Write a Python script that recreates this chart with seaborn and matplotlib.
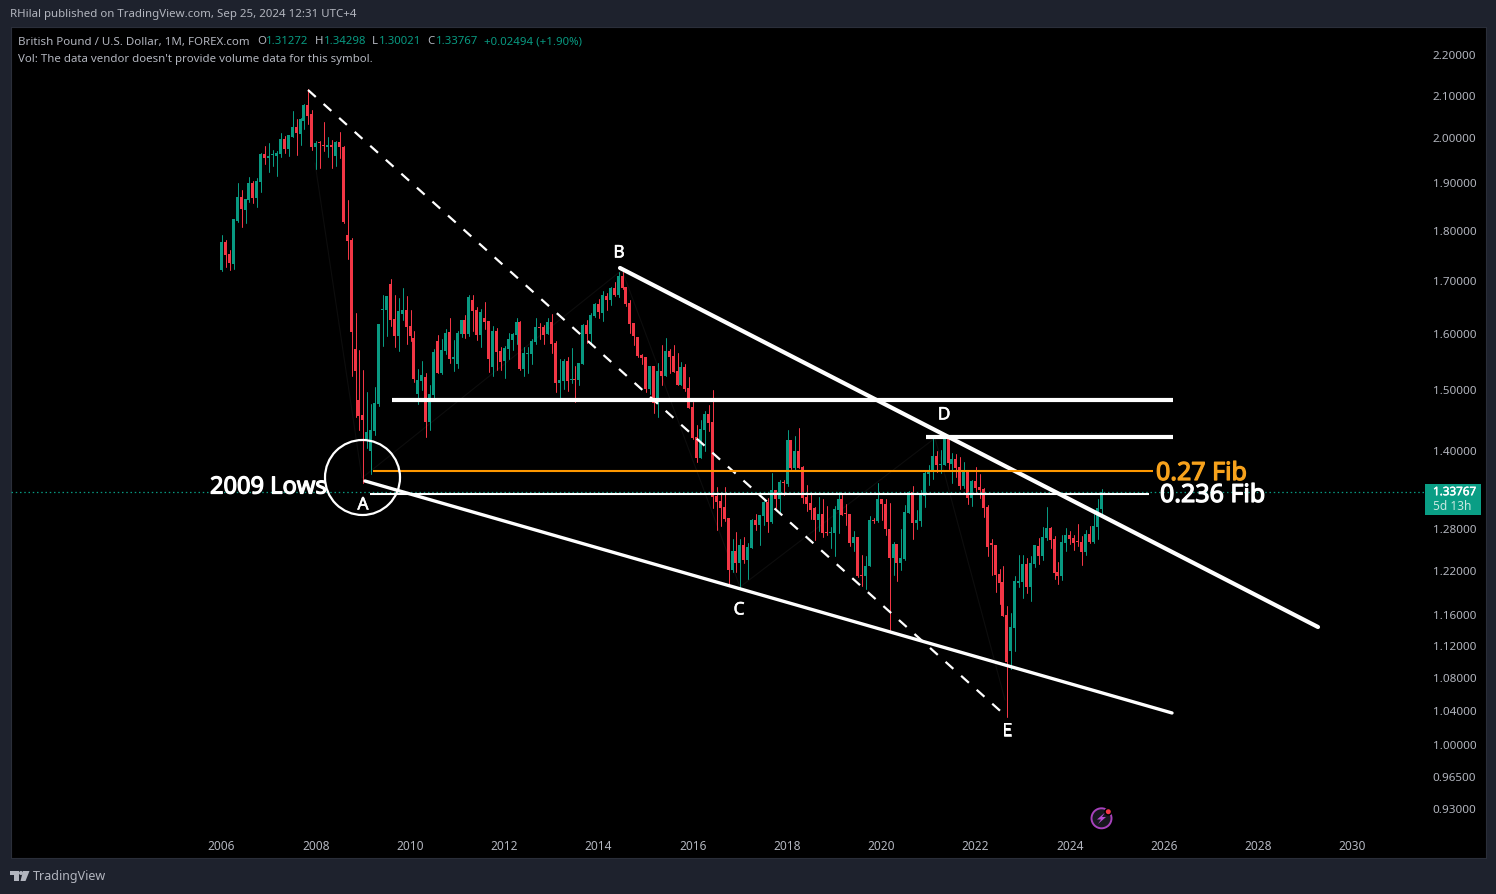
import numpy as np
import pandas as pd
import matplotlib
matplotlib.use('Agg')
import matplotlib.pyplot as plt
import matplotlib.patheffects as pe
from matplotlib.patches import Ellipse, Polygon, Rectangle
from matplotlib.ticker import FixedLocator, FixedFormatter, NullLocator
from matplotlib.transforms import ScaledTranslation
import seaborn as sns

# Monthly GBPUSD candles, Jan 2006 to Sep 2024
opens = [1.724,1.780,1.756,1.736,1.822,1.873,1.846,1.867,1.904,1.872,1.906,1.968,1.959,1.965,1.964,1.968,2.002,1.979,2.007,2.030,
         2.014,2.043,2.081,2.060,1.984,1.993,1.986,1.983,1.988,1.964,1.995,1.984,1.794,1.784,1.575,1.486,1.461,1.420,1.402,1.435,
         1.479,1.647,1.647,1.696,1.630,1.599,1.640,1.647,1.617,1.595,1.496,1.519,1.526,1.449,1.494,1.590,1.533,1.572,1.606,1.557,
         1.549,1.603,1.628,1.602,1.666,1.647,1.600,1.632,1.626,1.543,1.608,1.572,1.554,1.575,1.591,1.600,1.624,1.540,1.567,1.566,
         1.588,1.615,1.615,1.602,1.624,1.586,1.515,1.519,1.554,1.521,1.522,1.520,1.548,1.619,1.602,1.635,1.658,1.641,1.673,1.666,
         1.689,1.675,1.712,1.691,1.660,1.623,1.597,1.564,1.560,1.505,1.545,1.479,1.536,1.527,1.572,1.562,1.536,1.511,1.543,1.506,
         1.474,1.424,1.391,1.436,1.462,1.449,1.332,1.324,1.315,1.299,1.224,1.251,1.234,1.259,1.238,1.255,1.296,1.289,1.302,1.323,
         1.293,1.341,1.327,1.353,1.350,1.420,1.375,1.402,1.377,1.330,1.321,1.314,1.296,1.305,1.278,1.276,1.276,1.311,1.327,1.305,
         1.305,1.262,1.271,1.217,1.216,1.229,1.296,1.294,1.327,1.320,1.283,1.241,1.261,1.234,1.239,1.306,1.338,1.291,1.294,1.332,
         1.366,1.369,1.394,1.379,1.380,1.423,1.381,1.389,1.377,1.347,1.370,1.329,1.355,1.345,1.342,1.315,1.262,1.260,1.218,1.207,
         1.163,1.116,1.145,1.206,1.207,1.232,1.201,1.232,1.258,1.244,1.269,1.284,1.268,1.221,1.215,1.262,1.274,1.269,1.264,1.264,
         1.249,1.275,1.264,1.285,1.31272]
highs = [1.794,1.783,1.764,1.827,1.904,1.889,1.869,1.917,1.908,1.915,1.971,1.986,1.993,1.977,1.975,2.015,2.009,2.011,2.067,2.048,
         2.050,2.083,2.119,2.069,1.998,1.998,2.041,2.006,2.000,1.998,2.018,1.987,1.867,1.788,1.641,1.574,1.538,1.500,1.479,1.508,
         1.621,1.676,1.674,1.706,1.676,1.670,1.689,1.674,1.647,1.608,1.540,1.554,1.533,1.512,1.575,1.601,1.593,1.612,1.632,1.592,
         1.608,1.628,1.637,1.675,1.675,1.652,1.649,1.662,1.626,1.617,1.613,1.579,1.581,1.604,1.604,1.632,1.626,1.579,1.579,1.593,
         1.632,1.623,1.619,1.632,1.639,1.590,1.557,1.557,1.561,1.577,1.545,1.550,1.621,1.628,1.641,1.660,1.668,1.683,1.679,1.691,
         1.700,1.720,1.720,1.691,1.666,1.623,1.597,1.566,1.560,1.545,1.545,1.550,1.582,1.595,1.575,1.582,1.568,1.552,1.548,1.525,
         1.483,1.444,1.453,1.467,1.478,1.503,1.346,1.338,1.346,1.299,1.268,1.278,1.268,1.271,1.262,1.298,1.305,1.303,1.324,1.329,
         1.367,1.341,1.356,1.356,1.436,1.420,1.426,1.439,1.378,1.349,1.335,1.315,1.330,1.327,1.316,1.286,1.316,1.338,1.333,1.320,
         1.305,1.280,1.271,1.245,1.244,1.302,1.299,1.352,1.327,1.327,1.321,1.264,1.261,1.283,1.318,1.340,1.347,1.311,1.341,1.372,
         1.379,1.424,1.402,1.404,1.424,1.426,1.399,1.397,1.393,1.385,1.370,1.356,1.377,1.365,1.344,1.318,1.268,1.260,1.225,1.229,
         1.175,1.165,1.216,1.245,1.245,1.241,1.244,1.259,1.269,1.285,1.315,1.285,1.272,1.235,1.274,1.284,1.280,1.274,1.290,1.272,
         1.281,1.287,1.305,1.328,1.34298]
lows = [1.721,1.730,1.724,1.726,1.820,1.811,1.819,1.863,1.861,1.852,1.884,1.946,1.928,1.941,1.919,1.961,1.971,1.964,2.007,1.966,
        1.988,2.025,2.036,1.977,1.934,1.937,1.975,1.961,1.937,1.942,1.959,1.818,1.746,1.528,1.457,1.436,1.352,1.407,1.366,1.428,
        1.476,1.581,1.599,1.617,1.579,1.572,1.628,1.585,1.590,1.517,1.479,1.503,1.425,1.436,1.488,1.533,1.531,1.566,1.550,1.536,
        1.542,1.597,1.595,1.599,1.608,1.591,1.579,1.612,1.534,1.527,1.538,1.538,1.524,1.557,1.573,1.584,1.538,1.527,1.533,1.548,
        1.584,1.593,1.584,1.602,1.568,1.500,1.484,1.505,1.501,1.515,1.483,1.511,1.548,1.586,1.586,1.633,1.632,1.626,1.647,1.656,
        1.673,1.671,1.687,1.654,1.604,1.582,1.560,1.548,1.500,1.496,1.464,1.457,1.511,1.527,1.533,1.534,1.511,1.511,1.501,1.472,
        1.421,1.384,1.391,1.402,1.434,1.314,1.281,1.287,1.294,1.205,1.221,1.221,1.199,1.234,1.212,1.255,1.281,1.259,1.289,1.278,
        1.291,1.314,1.305,1.333,1.347,1.374,1.372,1.375,1.321,1.309,1.297,1.267,1.280,1.271,1.274,1.255,1.244,1.276,1.303,1.289,
        1.258,1.251,1.214,1.202,1.197,1.229,1.292,1.293,1.296,1.274,1.143,1.217,1.209,1.224,1.238,1.306,1.268,1.283,1.287,1.315,
        1.349,1.358,1.369,1.367,1.380,1.374,1.351,1.361,1.342,1.344,1.319,1.317,1.336,1.329,1.300,1.243,1.217,1.193,1.177,1.161,
        1.035,1.093,1.116,1.200,1.185,1.192,1.181,1.228,1.232,1.238,1.267,1.255,1.211,1.205,1.210,1.251,1.261,1.252,1.258,1.231,
        1.245,1.262,1.262,1.268,1.30021]
closes = [1.780,1.754,1.738,1.827,1.873,1.848,1.869,1.904,1.872,1.908,1.968,1.959,1.964,1.966,1.971,2.002,1.979,2.011,2.030,2.016,
          2.048,2.081,2.055,1.984,1.993,1.992,1.985,1.988,1.983,1.995,1.983,1.820,1.782,1.606,1.536,1.459,1.453,1.433,1.436,1.481,
          1.621,1.649,1.674,1.628,1.599,1.645,1.647,1.615,1.599,1.522,1.520,1.529,1.449,1.496,1.570,1.533,1.574,1.604,1.557,1.561,
          1.604,1.628,1.602,1.671,1.645,1.600,1.643,1.625,1.557,1.608,1.570,1.552,1.577,1.593,1.602,1.624,1.540,1.568,1.568,1.590,
          1.615,1.614,1.600,1.624,1.584,1.515,1.520,1.554,1.519,1.522,1.521,1.550,1.619,1.602,1.637,1.658,1.643,1.675,1.666,1.689,
          1.675,1.712,1.689,1.658,1.621,1.599,1.562,1.559,1.505,1.545,1.481,1.536,1.527,1.572,1.560,1.534,1.511,1.543,1.505,1.472,
          1.423,1.391,1.438,1.462,1.447,1.330,1.323,1.314,1.297,1.224,1.251,1.234,1.259,1.238,1.257,1.296,1.289,1.303,1.323,1.293,
          1.341,1.327,1.353,1.352,1.420,1.375,1.402,1.375,1.329,1.320,1.311,1.296,1.305,1.277,1.277,1.277,1.312,1.327,1.303,1.304,
          1.262,1.271,1.216,1.216,1.230,1.296,1.294,1.327,1.320,1.283,1.241,1.261,1.234,1.241,1.308,1.338,1.291,1.296,1.333,1.367,
          1.370,1.394,1.379,1.380,1.423,1.383,1.389,1.375,1.347,1.370,1.329,1.355,1.344,1.341,1.313,1.257,1.260,1.217,1.206,1.161,
          1.102,1.147,1.208,1.209,1.232,1.201,1.234,1.259,1.244,1.271,1.284,1.267,1.220,1.215,1.264,1.274,1.268,1.262,1.263,1.249,
          1.275,1.264,1.287,1.314,1.33767]

# Drawn trend lines, (year, price) at each end
dashed_years = [2007.836, 2022.626]
dashed_prices = [2.117, 1.037]
upper_years = [2014.456, 2029.268]
upper_prices = [1.7278, 1.1468]
lower_years = [2009.045, 2026.170]
lower_prices = [1.3548, 1.0396]
level_148_years = [2009.618, 2026.190]
level_148_price = 1.4852
level_142_years = [2020.950, 2026.190]
level_142_price = 1.4246
fib_027_years = [2009.215, 2025.766]
fib_027_price = 1.3711
fib_0236_years = [2009.151, 2025.680]
fib_0236_price = 1.3356
pivot_years = [2007.984, 2008.981, 2014.498, 2017.003, 2021.141, 2022.626]
pivot_prices = [1.948, 1.3595, 1.7237, 1.2004, 1.4229, 1.0551]
last_price = 1.33767

price_ticks = [2.2, 2.1, 2.0, 1.9, 1.8, 1.7, 1.6, 1.5, 1.4, 1.28, 1.22, 1.16, 1.12, 1.08, 1.04, 1.0, 0.965, 0.93]
year_ticks = list(range(2006, 2032, 2))

UP = '#089981'
DOWN = '#F23645'
PANEL = '#1E222D'
TXT = '#B2B5BE'
W, H = 1496, 894
PX_PER_YEAR = 47.125


def fx(x):
    return x / W


def fy(y):
    return 1 - y / H


def px_year(x):
    return 2006 + (x - 221.5) / PX_PER_YEAR


def px_price(y):
    return float(np.exp((747 - y) / 876))


sns.set_theme(style='dark', rc={'axes.facecolor': 'black', 'figure.facecolor': PANEL,
                                'axes.edgecolor': '#2A2E39', 'axes.linewidth': 0.8})
plt.rcParams['font.family'] = ['Noto Sans', 'DejaVu Sans']

fig = plt.figure(figsize=(W / 100, H / 100), dpi=100)
ax = fig.add_axes([fx(11), fy(858), (1486 - 11) / W, (858 - 27) / H])
ax.set_yscale('log')
ax.set_xlim(px_year(11), px_year(1486))
ax.set_ylim(px_price(858), px_price(27))

# Candles, x nudged to whole pixels so wick and body stay centred
df = pd.DataFrame({'open': opens, 'high': highs, 'low': lows, 'close': closes})
df['i'] = df.index
df['year'] = px_year(np.floor(221.5 + df['i'] * PX_PER_YEAR / 12) + 0.5)
df['dir'] = np.where(df['close'] >= df['open'], 'up', 'down')
wicks = df.melt(id_vars=['i', 'year', 'dir'], value_vars=['low', 'high'], value_name='price').sort_values(['i', 'price'])
sns.lineplot(data=wicks, x='year', y='price', units='i', hue='dir', palette={'up': UP, 'down': DOWN},
             estimator=None, sort=False, legend=False, linewidth=0.72, ax=ax, zorder=3)
for d, col in [('up', UP), ('down', DOWN)]:
    part = df[df['dir'] == d]
    body_low = part[['open', 'close']].min(axis=1)
    body_high = part[['open', 'close']].max(axis=1)
    # at least one pixel tall, as the doji candles are
    body_height = np.maximum(body_high - body_low, body_low * 0.00115)
    ax.bar(part['year'], body_height, bottom=body_low, width=3 / PX_PER_YEAR, color=col, linewidth=0, zorder=4)

# Faint zigzag that sits under the candles
ax.plot(pivot_years, pivot_prices, color='#0D0D0D', lw=0.8, zorder=2)

# Last price line
ax.plot([px_year(11), px_year(1425)], [last_price, last_price], color=UP, lw=0.9, ls=(0, (1.2, 2.2)), zorder=5)

# Trend lines and levels
ax.plot(dashed_years, dashed_prices, color='white', lw=1.6, ls=(0, (4.7, 4.7)), dash_capstyle='butt', zorder=6)
ax.plot(upper_years, upper_prices, color='white', lw=3, solid_capstyle='round', zorder=6)
ax.plot(lower_years, lower_prices, color='white', lw=2.4, solid_capstyle='round', zorder=6)
ax.plot(level_148_years, [level_148_price] * 2, color='white', lw=3, solid_capstyle='butt', zorder=6)
ax.plot(level_142_years, [level_142_price] * 2, color='white', lw=3, solid_capstyle='butt', zorder=6)
ax.plot(fib_027_years, [fib_027_price] * 2, color='#FF9800', lw=1.5, solid_capstyle='butt', zorder=6)
ax.plot(fib_0236_years, [fib_0236_price] * 2, color='white', lw=1.5, solid_capstyle='butt', zorder=6)

# Axes
ax.yaxis.tick_right()
ax.yaxis.set_major_locator(FixedLocator(price_ticks))
ax.yaxis.set_major_formatter(FixedFormatter(['%.5f' % p for p in price_ticks]))
ax.yaxis.set_minor_locator(NullLocator())
ax.set_xticks(year_ticks)
ax.set_xticklabels([str(y) for y in year_ticks])
ax.tick_params(axis='y', which='both', length=0, pad=-38.5, labelsize=8.4, labelcolor=TXT)
ax.tick_params(axis='x', length=0, pad=-13.3, labelsize=8.6, labelcolor=TXT)
ax.set_xlabel('')
ax.set_ylabel('')
ax.grid(False)
for s in ax.spines.values():
    s.set_color('#2A2E39')
for lbl in ax.get_yticklabels():
    lbl.set_transform(lbl.get_transform() + ScaledTranslation(0, 0.015, fig.dpi_scale_trans))

# Header and legend
fig.text(fx(10), fy(14.5), 'RHilal published on TradingView.com, Sep 25, 2024 12:31 UTC+4', color=TXT, fontsize=8.25, va='center')
fig.text(fx(18), fy(42), 'British Pound / U.S. Dollar, 1M, FOREX.com', color=TXT, fontsize=8.3, va='center')
legend_bits = [(257.5, 'O', TXT), (266, '1.31272', UP), (315, 'H', TXT), (323.5, '1.34298', UP), (372, 'L', TXT),
               (379, '1.30021', UP), (427.5, 'C', TXT), (435.5, '1.33767', UP), (484.5, '+0.02494 (+1.90%)', UP)]
for x, s, c in legend_bits:
    fig.text(fx(x), fy(42), s, color=c, fontsize=8.2, va='center')
fig.text(fx(18), fy(59.5), "Vol: The data vendor doesn't provide volume data for this symbol.", color=TXT, fontsize=8.25, va='center')

# Big labels, the regular face thickened with a thin stroke
big_labels = [('2009 Lows', 210, 487.5, 'white', 17.0), ('0.27 Fib', 1156, 473.5, '#F7A21C', 18.0), ('0.236 Fib', 1160, 495.5, 'white', 18.0)]
for s, x, y, c, size in big_labels:
    t = fig.text(fx(x), fy(y), s, color=c, fontsize=size, va='center')
    t.set_path_effects([pe.withStroke(linewidth=0.9, foreground=c)])
for s, x, y in [('A', 363, 504.5), ('B', 619, 252.5), ('C', 739, 609.5), ('D', 944, 414.5), ('E', 1007, 730.5)]:
    t = fig.text(fx(x), fy(y), s, color='white', fontsize=12.5, ha='center', va='center')
    t.set_path_effects([pe.withStroke(linewidth=0.4, foreground='white')])

# Circle round the 2009 low
fig.add_artist(Ellipse((fx(362.5), fy(477.5)), 75 / W, 75 / H, transform=fig.transFigure, fill=False, ec='white', lw=1.6, zorder=5))

# Last price tag
fig.add_artist(Rectangle((fx(1425), fy(515)), 55.5 / W, 31 / H, transform=fig.transFigure, fc='#0A9E85', ec='none', zorder=5))
t = fig.text(fx(1433), fy(492.7), '1.33767', color='white', fontsize=8.4, va='center', zorder=6)
t.set_path_effects([pe.withStroke(linewidth=0.35, foreground='white')])
fig.text(fx(1433), fy(506.5), '5d 13h', color='#C6E8E0', fontsize=8.6, va='center', zorder=6)

# Flash icon
fig.add_artist(Ellipse((fx(1101.5), fy(818.3)), 20 / W, 20 / H, transform=fig.transFigure, fc='#17171F', ec='#A742BC', lw=1.4, zorder=5))
bolt = [(1105, 812.5), (1097, 819.5), (1101, 819.5), (1098, 824), (1106, 817), (1102, 817)]
fig.add_artist(Polygon([(fx(a), fy(b)) for a, b in bolt], transform=fig.transFigure, fc='#B44BD0', ec='none', zorder=6))
fig.add_artist(Ellipse((fx(1108.3), fy(811.7)), 8 / W, 8 / H, transform=fig.transFigure, fc='black', ec='none', zorder=6))
fig.add_artist(Ellipse((fx(1108.3), fy(811.7)), 5 / W, 5 / H, transform=fig.transFigure, fc='#F23645', ec='none', zorder=7))

# TradingView logo
logo_t = [(10, 871), (18.5, 871), (18.5, 881), (14, 881), (14, 874.5), (10, 874.5)]
logo_v = [(23, 871), (29.5, 871), (25.5, 881), (20.5, 881)]
for shape in (logo_t, logo_v):
    fig.add_artist(Polygon([(fx(a), fy(b)) for a, b in shape], transform=fig.transFigure, fc=TXT, ec='none'))
fig.add_artist(Ellipse((fx(21), fy(873)), 4 / W, 4 / H, transform=fig.transFigure, fc=TXT, ec='none'))
fig.text(fx(33), fy(876.5), 'TradingView', color=TXT, fontsize=9, va='center')

fig.savefig('out.png', dpi=100, facecolor=PANEL)
